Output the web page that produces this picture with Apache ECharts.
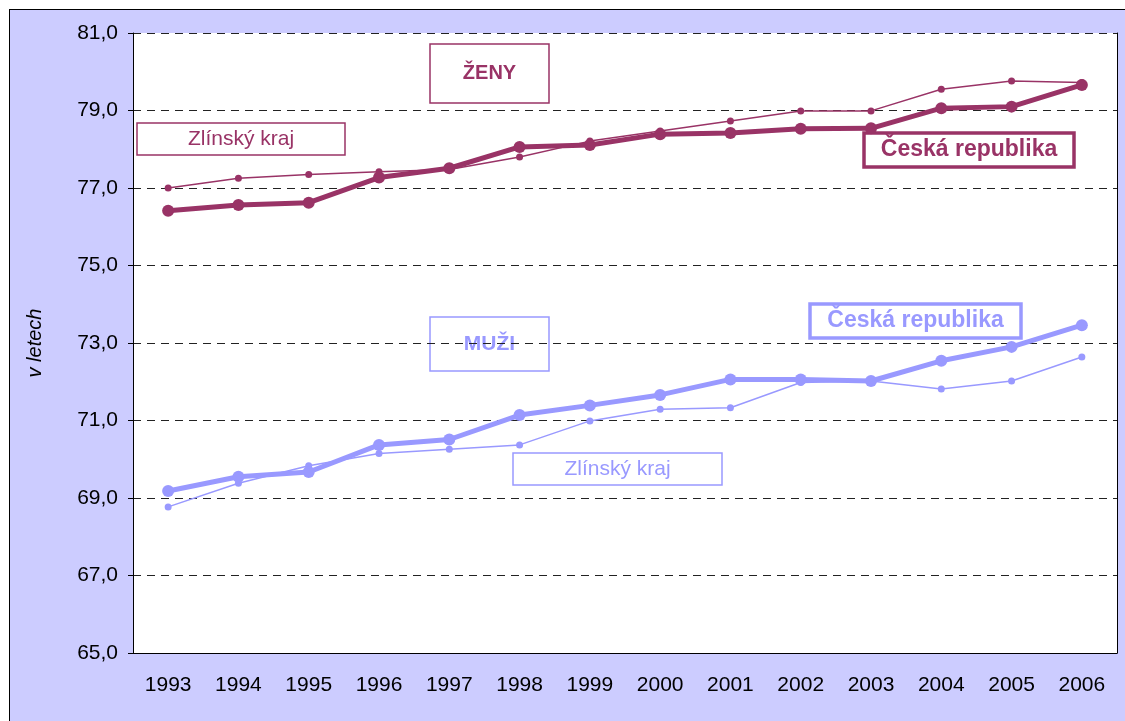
<!DOCTYPE html>
<html>
<head>
<meta charset="utf-8">
<script src="https://cdn.jsdelivr.net/npm/echarts@6/dist/echarts.min.js"></script>
<style>
    html, body { margin: 0; padding: 0; background: #fff; }
    #frame { position: absolute; left: 9px; top: 9px; width: 1130px; height: 730px; background: #CCCCFF; border: 1px solid #000; }
    #main { position: absolute; left: 0; top: 0; width: 1125px; height: 721px; }
</style>
</head>
<body>
<div id="frame"></div>
<div id="main"></div>
<script>
var years = ['1993','1994','1995','1996','1997','1998','1999','2000','2001','2002','2003','2004','2005','2006'];

// naděje dožití - ženy
var zenyZlin = [77.0, 77.25, 77.35, 77.42, 77.48, 77.8, 78.21, 78.47, 78.73, 78.99, 78.99, 79.55, 79.76, 79.72];
var zenyCR   = [76.41, 76.56, 76.62, 77.27, 77.51, 78.06, 78.11, 78.39, 78.42, 78.53, 78.54, 79.06, 79.1, 79.66];

// naděje dožití - muži
var muziZlin = [68.77, 69.38, 69.83, 70.15, 70.26, 70.37, 70.99, 71.29, 71.33, 71.98, 72.02, 71.81, 72.02, 72.64];
var muziCR   = [69.18, 69.55, 69.67, 70.37, 70.51, 71.14, 71.39, 71.66, 72.06, 72.06, 72.02, 72.54, 72.9, 73.46];

var yTicks = [65, 67, 69, 71, 73, 75, 77, 79, 81];

var ZENY = '#993366';
var MUZI = '#9999FF';
var FONT = '"Liberation Sans", Arial, sans-serif';

function box(x, y, w, h, text, color, bold, bw, size) {
    return {
        type: 'group',
        children: [
            { type: 'rect', shape: { x: x, y: y, width: w, height: h },
              style: { fill: '#fff', stroke: color, lineWidth: bw } },
            { type: 'text', x: x + w / 2, y: y + h / 2,
              style: { text: text, fill: color, align: 'center', verticalAlign: 'middle',
                       font: (bold ? 'bold ' : '') + size + 'px ' + FONT } }
        ]
    };
}

var myChart = echarts.init(document.getElementById('main'));

var thin = function (name, data, color) {
    return {
        name: name, type: 'line', data: data,
        symbol: 'circle', symbolSize: 7,
        lineStyle: { color: color, width: 1.5 },
        itemStyle: { color: color },
        z: 2
    };
};
var thick = function (name, data, color) {
    return {
        name: name, type: 'line', data: data,
        symbol: 'circle', symbolSize: 12,
        lineStyle: { color: color, width: 5 },
        itemStyle: { color: color },
        z: 3
    };
};

var option = {
    animation: false,
    textStyle: { fontFamily: FONT },
    grid: {
        left: 133, top: 33, width: 984, height: 620,
        show: true, backgroundColor: '#fff', borderWidth: 0
    },
    xAxis: {
        type: 'category',
        data: years,
        boundaryGap: true,
        axisLine: { lineStyle: { color: '#000', width: 1 } },
        axisTick: { length: 5, lineStyle: { color: '#000' } },
        axisLabel: { color: '#000', fontSize: 21, margin: 22 }
    },
    yAxis: [{
        type: 'value',
        min: yTicks[0], max: yTicks[yTicks.length - 1], interval: 2,
        name: 'v letech',
        nameLocation: 'middle',
        nameGap: 88,
        nameRotate: 90,
        nameTextStyle: { color: '#000', fontSize: 20, fontStyle: 'italic' },
        axisLine: { show: true, lineStyle: { color: '#000', width: 1 } },
        axisTick: { show: true, length: 5, lineStyle: { color: '#000' } },
        axisLabel: {
            color: '#000', fontSize: 21, margin: 15,
            formatter: function (v) { return v.toFixed(1).replace('.', ','); }
        },
        splitLine: { show: true, lineStyle: { color: '#222', type: [8, 6], width: 1 } }
    }, {
        type: 'value',
        position: 'right',
        min: yTicks[0], max: yTicks[yTicks.length - 1], interval: 2,
        axisLine: { show: true, lineStyle: { color: '#000', width: 1 } },
        axisTick: { show: false },
        axisLabel: { show: false },
        splitLine: { show: false }
    }],
    series: [
        thin('Zlínský kraj - ženy', zenyZlin, ZENY),
        thick('Česká republika - ženy', zenyCR, ZENY),
        thin('Zlínský kraj - muži', muziZlin, MUZI),
        thick('Česká republika - muži', muziCR, MUZI)
    ],
    graphic: [
        box(430, 44, 119, 59, 'ŽENY', ZENY, true, 1.5, 20),
        box(137, 123, 208, 32, 'Zlínský kraj', ZENY, false, 1.5, 21),
        box(864, 133, 210, 34, 'Česká republika', ZENY, true, 3.5, 23),
        box(430, 317, 119, 54, 'MUŽI', MUZI, true, 1.5, 21),
        box(513, 453, 209, 32, 'Zlínský kraj', MUZI, false, 1.5, 21),
        box(810, 304, 211, 34, 'Česká republika', MUZI, true, 3.5, 23)
    ]
};
myChart.setOption(option);
</script>
</body>
</html>
